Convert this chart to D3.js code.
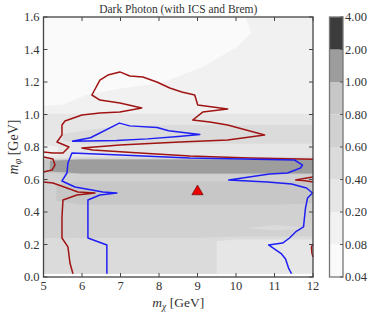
<!DOCTYPE html>
<html><head><meta charset="utf-8">
<script src="https://cdn.jsdelivr.net/npm/d3@7"></script>
<style>body{margin:0;background:#fff}</style>
</head><body>
<svg id="c" width="374" height="318" xmlns="http://www.w3.org/2000/svg"></svg>
<script>
// ---------- data ----------
const mChi = [5, 6, 7, 8, 9, 10, 11, 12];
const mPhi = [0.02, 0.22, 0.26, 0.30, 0.36, 0.42, 0.47, 0.57, 0.61, 0.63, 0.65, 0.715, 0.73, 0.75, 0.80, 0.84, 0.88, 0.92, 0.95, 0.98, 1.02, 1.06, 1.12, 1.2, 1.3, 1.4, 1.5, 1.6];
// one row per mPhi value, one column per mChi value
const zRows = [
  [0.5, 0.5, 0.5, 0.5, 0.5, 0.3, 0.3, 0.3],
  [0.5, 0.5, 0.5, 0.5, 0.5, 0.3, 0.3, 0.3],
  [0.7, 0.7, 0.7, 0.7, 0.7, 0.7, 0.7, 0.7],
  [0.7, 0.7, 0.7, 0.7, 0.7, 0.62, 0.55, 0.6],
  [0.7, 0.7, 0.7, 0.7, 0.7, 0.7, 0.7, 0.7],
  [0.7, 0.7, 0.7, 0.7, 0.7, 0.7, 0.7, 0.7],
  [0.75, 0.9, 0.9, 0.9, 0.9, 0.9, 0.9, 0.85],
  [0.75, 0.9, 0.9, 0.9, 0.9, 0.9, 0.9, 0.85],
  [0.7, 0.7, 0.7, 0.7, 0.7, 0.7, 0.7, 0.7],
  [0.7, 0.7, 0.7, 0.7, 0.7, 0.7, 0.7, 0.7],
  [0.9, 1.5, 1.5, 1.5, 1.5, 1.5, 1.5, 1.5],
  [0.9, 1.5, 1.5, 1.5, 1.5, 1.5, 1.5, 1.5],
  [0.3, 0.5, 0.5, 0.5, 0.5, 0.5, 0.5, 0.5],
  [0.14, 0.3, 0.3, 0.3, 0.3, 0.3, 0.3, 0.3],
  [0.14, 0.3, 0.3, 0.3, 0.3, 0.3, 0.3, 0.3],
  [0.3, 0.5, 0.5, 0.5, 0.5, 0.5, 0.5, 0.5],
  [0.3, 0.5, 0.5, 0.5, 0.5, 0.5, 0.5, 0.5],
  [0.3, 0.3, 0.45, 0.5, 0.5, 0.5, 0.5, 0.5],
  [0.3, 0.3, 0.3, 0.3, 0.3, 0.3, 0.3, 0.3],
  [0.3, 0.3, 0.3, 0.3, 0.3, 0.3, 0.3, 0.3],
  [0.14, 0.14, 0.14, 0.14, 0.14, 0.14, 0.14, 0.14],
  [0.07, 0.09, 0.14, 0.14, 0.14, 0.14, 0.14, 0.14],
  [0.06, 0.078, 0.1, 0.14, 0.14, 0.14, 0.14, 0.14],
  [0.06, 0.06, 0.06, 0.075, 0.12, 0.14, 0.14, 0.14],
  [0.06, 0.06, 0.06, 0.06, 0.07, 0.12, 0.14, 0.14],
  [0.06, 0.06, 0.06, 0.06, 0.06, 0.082, 0.14, 0.14],
  [0.06, 0.06, 0.06, 0.06, 0.06, 0.06, 0.11, 0.14],
  [0.06, 0.06, 0.06, 0.06, 0.06, 0.06, 0.14, 0.14]
];
const levels = [0.04, 0.08, 0.2, 0.4, 0.6, 0.8, 1.0, 2.0, 4.0];
const levelLabels = ["0.04", "0.08", "0.20", "0.40", "0.60", "0.80", "1.00", "2.00", "4.00"];
const bandColors = ["#fafafa", "#f1f1f1", "#e6e6e6", "#dbdbdb", "#d1d1d1", "#c7c7c7", "#9d9d9d", "#3c3c3c"];

const redLines = [
  [[5.0,0.769],[5.246,0.763],[5.506,0.763],[5.661,0.800],[5.350,0.831],[5.480,0.874],[5.480,0.935],[5.557,0.960],
   [5.998,0.997],[6.465,1.009],[6.983,1.015],[7.554,1.040],[6.983,1.071],[6.465,1.089],[6.257,1.120],[6.465,1.212],
   [6.672,1.243],[6.983,1.262],[7.243,1.237],[7.580,1.231],[7.943,1.200],[8.280,1.163],[8.591,1.138],[8.928,1.120],
   [9.006,1.058],[9.784,1.034],[9.136,1.015],[8.876,0.966],[9.317,0.954],[9.784,0.935],[10.743,0.874],[9.784,0.843],
   [8.539,0.831],[6.983,0.812],[5.998,0.794],[6.283,0.782],[7.502,0.763],[8.798,0.745],[10.354,0.732],[12.0,0.724]],
  [[5.0,0.738],[5.246,0.726],[5.298,0.689],[5.22,0.658],[5.0,0.646]],
  [[5.0,0.585],[5.246,0.578],[5.609,0.548],[5.894,0.523],[6.335,0.517],[5.868,0.505],[5.506,0.474],[5.48,0.369],
   [5.48,0.24],[5.635,0.185],[5.687,0.086],[5.765,0.02]],
  [[12.0,0.615],[11.8,0.607],[11.55,0.597],[11.8,0.592],[12.0,0.585]],
  [[12.0,0.203],[11.96,0.185],[11.97,0.15],[12.0,0.123]]
];
const blueLines = [
  [[5.74,0.835],[6.22,0.857],[6.97,0.947],[7.24,0.93],[7.95,0.92],[8.25,0.9],[9.06,0.877],[8.5,0.865],[7.7,0.85],[6.9,0.84],[5.74,0.835]],
  [[6.646,0.02],[6.646,0.197],[6.154,0.24],[6.154,0.474],[6.465,0.505],[6.906,0.517],[6.543,0.523],[6.257,0.535],
   [5.817,0.554],[5.48,0.591],[5.609,0.64],[5.635,0.702],[5.739,0.763],[6.983,0.751],[8.798,0.732],[11.52,0.72],
   [11.728,0.689],[11.676,0.671],[11.339,0.64],[10.872,0.634],[9.81,0.597],[10.82,0.585],[11.443,0.572],[11.832,0.548],
   [11.987,0.517],[11.858,0.486],[11.806,0.425],[11.78,0.369],[11.754,0.308],[11.547,0.277],[11.391,0.24],[11.21,0.209],
   [10.846,0.197],[11.183,0.142],[11.287,0.111],[11.365,0.055],[11.443,0.02]]
];
const markerPoint = [9.0, 0.52];
const xTicks = [5, 6, 7, 8, 9, 10, 11, 12];
const yTicks = [0.0, 0.2, 0.4, 0.6, 0.8, 1.0, 1.2, 1.4, 1.6];
const titleText = "Dark Photon (with ICS and Brem)";

// ---------- drawing ----------
const svg = d3.select("#c");
const FONT = "'Liberation Serif', 'DejaVu Serif', serif";
const L = 43.5, R = 313, T = 17, B = 277;
const x = d3.scaleLinear().domain([5, 12]).range([L, R]);
const y = d3.scaleLinear().domain([0, 1.6]).range([B, T]);

const nx = mChi.length, ny = mPhi.length;
const values = [];
zRows.forEach(r => r.forEach(v => values.push(v)));
function interpIdx(arr, c) {
  let k = Math.max(0, Math.min(arr.length - 1, c - 0.5));
  let i = Math.min(arr.length - 2, Math.floor(k));
  return arr[i] + (k - i) * (arr[i + 1] - arr[i]);
}
const contours = d3.contours().size([nx, ny]).thresholds(levels)(values);
const gFill = svg.append("g");
contours.forEach((c, i) => {
  if (i >= bandColors.length) return;
  let d = "";
  c.coordinates.forEach(poly => poly.forEach(ring => {
    d += "M" + ring.map(p => x(interpIdx(mChi, p[0])).toFixed(2) + "," + y(interpIdx(mPhi, p[1])).toFixed(2)).join("L") + "Z";
  }));
  if (d) gFill.append("path").attr("d", d).attr("fill", bandColors[i]).attr("stroke", "none");
});

const line = d3.line().x(d => x(d[0])).y(d => y(d[1]));
svg.append("g").selectAll("path").data(redLines).join("path")
  .attr("d", line).attr("fill", "none").attr("stroke", "#a01414").attr("stroke-width", 1.5).attr("stroke-linejoin", "round");
svg.append("g").selectAll("path").data(blueLines).join("path")
  .attr("d", line).attr("fill", "none").attr("stroke", "#1f1ff5").attr("stroke-width", 1.5).attr("stroke-linejoin", "round");

svg.append("path")
  .attr("d", d3.symbol().type(d3.symbolTriangle).size(55)())
  .attr("transform", `translate(${x(markerPoint[0])},${y(markerPoint[1]) - 1})`)
  .attr("fill", "#ee0000").attr("stroke", "#550000").attr("stroke-width", 0.6);

// frame & ticks
const axisG = svg.append("g");
axisG.append("rect").attr("x", L).attr("y", T).attr("width", R - L).attr("height", B - T)
  .attr("fill", "none").attr("stroke", "#444").attr("stroke-width", 1.3);
const tk = 4;
xTicks.forEach(v => {
  axisG.append("line").attr("x1", x(v)).attr("x2", x(v)).attr("y1", B).attr("y2", B - tk).attr("stroke", "#444");
  axisG.append("line").attr("x1", x(v)).attr("x2", x(v)).attr("y1", T).attr("y2", T + tk).attr("stroke", "#444");
  axisG.append("text").attr("x", x(v)).attr("y", 289.5).attr("text-anchor", "middle")
    .attr("font-family", FONT).attr("font-size", 12.5).attr("fill", "#333").text(v);
});
yTicks.forEach(v => {
  axisG.append("line").attr("x1", L).attr("x2", L + tk).attr("y1", y(v)).attr("y2", y(v)).attr("stroke", "#444");
  axisG.append("line").attr("x1", R).attr("x2", R - tk).attr("y1", y(v)).attr("y2", y(v)).attr("stroke", "#444");
  axisG.append("text").attr("x", 39.5).attr("y", y(v) + 4.3).attr("text-anchor", "end")
    .attr("font-family", FONT).attr("font-size", 12.5).attr("fill", "#333").text(v.toFixed(1));
});

// title
svg.append("text").attr("x", (L + R) / 2).attr("y", 13).attr("text-anchor", "middle")
  .attr("font-family", FONT).attr("font-size", 11.5).attr("fill", "#333").text(titleText);

// x label
const xl = svg.append("text").attr("x", (L + R) / 2).attr("y", 306.5).attr("text-anchor", "middle")
  .attr("font-family", FONT).attr("font-size", 13.5).attr("fill", "#333");
xl.append("tspan").attr("font-style", "italic").text("m");
xl.append("tspan").attr("font-style", "italic").attr("font-size", 9.5).attr("dy", 3).text("χ");
xl.append("tspan").attr("dy", -3).text(" [GeV]");

// y label
const yl = svg.append("text").attr("transform", `translate(18,${(T + B) / 2}) rotate(-90)`).attr("text-anchor", "middle")
  .attr("font-family", FONT).attr("font-size", 14).attr("fill", "#333");
yl.append("tspan").attr("font-style", "italic").text("m");
yl.append("tspan").attr("font-style", "italic").attr("font-size", 10).attr("dy", 3).text("φ");
yl.append("tspan").attr("dy", -3).text(" [GeV]");

// colorbar
const cbX = 329.5, cbW = 13.5;
const cb = d3.scaleLinear().domain([0, levels.length - 1]).range([B, T]);
const cbG = svg.append("g");
bandColors.forEach((col, i) => {
  cbG.append("rect").attr("x", cbX).attr("y", cb(i + 1)).attr("width", cbW).attr("height", cb(i) - cb(i + 1)).attr("fill", col);
});
cbG.append("rect").attr("x", cbX).attr("y", T).attr("width", cbW).attr("height", B - T)
  .attr("fill", "none").attr("stroke", "#777").attr("stroke-width", 1.3);
levelLabels.forEach((lab, i) => {
  cbG.append("line").attr("x1", cbX + cbW).attr("x2", cbX + cbW - 3).attr("y1", cb(i)).attr("y2", cb(i)).attr("stroke", "#555");
  cbG.append("text").attr("x", 345).attr("y", cb(i) + 4.3).attr("font-family", FONT).attr("font-size", 12.5)
    .attr("fill", "#333").text(lab);
});
</script>
</body></html>
